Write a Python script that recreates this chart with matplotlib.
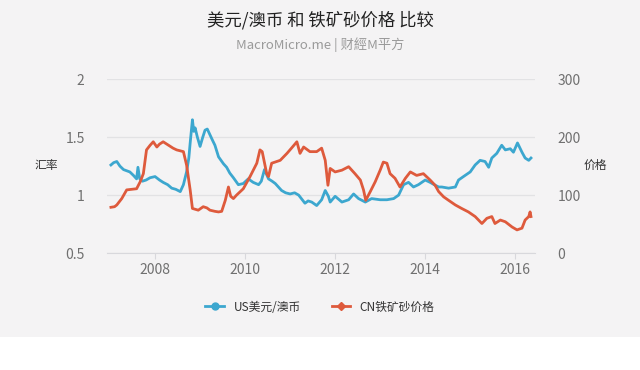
import matplotlib
matplotlib.use("Agg")
import matplotlib.pyplot as plt
from matplotlib.patches import Rectangle

plt.rcParams['font.family'] = ['Noto Sans CJK SC', 'DejaVu Sans']

# US美元/澳币 (left axis)
aud_years = [2007.02, 2007.08, 2007.15, 2007.22, 2007.30, 2007.44, 2007.52, 2007.59, 2007.62, 2007.66,
             2007.72, 2007.80, 2007.89, 2008.00, 2008.10, 2008.18, 2008.28, 2008.37, 2008.46, 2008.56,
             2008.63, 2008.70, 2008.75, 2008.78, 2008.83, 2008.86, 2008.89, 2008.94, 2009.00, 2009.06,
             2009.11, 2009.16, 2009.22, 2009.28, 2009.33, 2009.41, 2009.52, 2009.59, 2009.66, 2009.74,
             2009.85, 2009.96, 2010.07, 2010.18, 2010.30, 2010.36, 2010.43, 2010.52, 2010.60, 2010.67,
             2010.81, 2010.90, 2011.00, 2011.10, 2011.19, 2011.33, 2011.40, 2011.48, 2011.59, 2011.70,
             2011.78, 2011.85, 2011.89, 2012.00, 2012.15, 2012.30, 2012.41, 2012.52, 2012.67, 2012.81,
             2013.00, 2013.15, 2013.30, 2013.41, 2013.52, 2013.63, 2013.74, 2013.85, 2014.00, 2014.11,
             2014.20, 2014.30, 2014.37, 2014.52, 2014.67, 2014.74, 2014.85, 2015.00, 2015.11, 2015.22,
             2015.33, 2015.41, 2015.48, 2015.59, 2015.70, 2015.78, 2015.89, 2015.96, 2016.05, 2016.15,
             2016.22, 2016.30, 2016.35]
aud_vals = [1.26, 1.28, 1.29, 1.25, 1.22, 1.20, 1.17, 1.14, 1.24, 1.14,
            1.12, 1.13, 1.15, 1.16, 1.13, 1.11, 1.09, 1.06, 1.05, 1.03,
            1.09, 1.20, 1.32, 1.45, 1.65, 1.55, 1.58, 1.50, 1.42, 1.50,
            1.56, 1.57, 1.52, 1.47, 1.43, 1.33, 1.27, 1.24, 1.19, 1.15,
            1.09, 1.10, 1.14, 1.11, 1.09, 1.12, 1.22, 1.14, 1.12, 1.10,
            1.04, 1.02, 1.01, 1.02, 1.00, 0.93, 0.95, 0.94, 0.91, 0.96,
            1.04, 0.99, 0.94, 0.99, 0.94, 0.96, 1.01, 0.97, 0.94, 0.97,
            0.96, 0.96, 0.97, 1.00, 1.09, 1.11, 1.07, 1.09, 1.13, 1.11,
            1.09, 1.07, 1.07, 1.06, 1.07, 1.13, 1.16, 1.20, 1.26, 1.30,
            1.29, 1.24, 1.32, 1.36, 1.43, 1.39, 1.40, 1.37, 1.45, 1.37,
            1.32, 1.30, 1.32]

# CN铁矿砂价格 (right axis)
ore_years = [2007.02, 2007.10, 2007.15, 2007.26, 2007.37, 2007.48, 2007.59, 2007.67, 2007.74, 2007.81,
             2007.89, 2007.96, 2008.04, 2008.10, 2008.18, 2008.30, 2008.40, 2008.48, 2008.63, 2008.70,
             2008.78, 2008.83, 2008.96, 2009.07, 2009.15, 2009.22, 2009.33, 2009.41, 2009.48, 2009.56,
             2009.63, 2009.68, 2009.74, 2009.81, 2009.96, 2010.11, 2010.26, 2010.33, 2010.38, 2010.48,
             2010.52, 2010.59, 2010.78, 2010.93, 2011.03, 2011.15, 2011.22, 2011.30, 2011.44, 2011.59,
             2011.70, 2011.78, 2011.84, 2011.89, 2012.00, 2012.15, 2012.30, 2012.44, 2012.56, 2012.63,
             2012.68, 2012.78, 2012.89, 2013.00, 2013.07, 2013.15, 2013.22, 2013.33, 2013.44, 2013.56,
             2013.67, 2013.81, 2013.96, 2014.11, 2014.22, 2014.30, 2014.41, 2014.52, 2014.67, 2014.81,
             2014.96, 2015.11, 2015.26, 2015.37, 2015.48, 2015.55, 2015.67, 2015.78, 2015.93, 2016.04,
             2016.15, 2016.22, 2016.30, 2016.33, 2016.35]
ore_vals = [79, 80, 83, 94, 109, 110, 111, 123, 137, 178,
            186, 192, 183, 188, 192, 186, 181, 178, 175, 152,
            109, 77, 74, 80, 78, 74, 72, 71, 72, 91,
            114, 98, 94, 100, 111, 132, 155, 178, 175, 137,
            132, 155, 160, 172, 181, 192, 172, 183, 175, 175,
            181, 160, 117, 146, 140, 143, 149, 137, 126, 109,
            91, 106, 123, 143, 157, 155, 137, 129, 114, 129,
            140, 134, 137, 126, 117, 106, 97, 91, 83, 77,
            71, 63, 51, 60, 63, 51, 57, 54, 45, 40,
            43, 57, 63, 71, 63]

left_ticks = [0.5, 1, 1.5, 2]
left_labels = ["0.5", "1", "1.5", "2"]
right_ticks = [0, 100, 200, 300]
year_ticks = [2008, 2010, 2012, 2014, 2016]

bg = "#f4f3f4"
blue = "#3ca7cf"
red = "#de5a3c"

fig = plt.figure(figsize=(6.4, 3.7), dpi=100, facecolor=bg)
fig.patches.append(Rectangle((0, 0), 1, 0.09, transform=fig.transFigure,
                             facecolor="white", edgecolor="none", zorder=0))

ax = fig.add_axes([0.167, 0.316, 0.669, 0.470])
ax.set_facecolor("none")
ax2 = ax.twinx()

ax.plot(aud_years, aud_vals, color=blue, lw=2.0, label="US美元/澳币", zorder=3)
ax2.plot(ore_years, ore_vals, color=red, lw=2.0, label="CN铁矿砂价格", zorder=3)

ax.set_xlim(2006.93, 2016.44)
ax.set_ylim(0.5, 2)
ax2.set_ylim(0, 300)
ax.set_yticks(left_ticks)
ax.set_yticklabels(left_labels)
ax2.set_yticks(right_ticks)
ax.set_xticks(year_ticks)
ax.set_xticklabels([str(y) for y in year_ticks])

for a in (ax, ax2):
    for s in a.spines.values():
        s.set_visible(False)
ax.spines["bottom"].set_visible(True)
ax.spines["bottom"].set_color("#d8d8dc")

ax.grid(axis="y", color="#e2e2e4", lw=0.9)
ax.set_axisbelow(True)
ax.tick_params(axis="y", length=0, labelsize=10, labelcolor="#707070", pad=16)
ax2.tick_params(axis="y", length=0, labelsize=10, labelcolor="#707070", pad=16)
ax.tick_params(axis="x", length=4, color="#d8d8dc", labelsize=10, labelcolor="#707070", pad=3)

fig.text(0.072, 0.554, "汇率", fontsize=8.5, color="#333333", ha="center", va="center")
fig.text(0.930, 0.554, "价格", fontsize=8.5, color="#333333", ha="center", va="center")

fig.text(0.5, 0.945, "美元/澳币 和 铁矿砂价格 比较", fontsize=12.5, color="#222222",
         ha="center", va="center")
fig.text(0.5, 0.88, "MacroMicro.me | 财經M平方", fontsize=9.5, color="#9a9a9a",
         ha="center", va="center")

h1, = ax.plot([], [], color=blue, lw=2.0, marker="o", markersize=5)
h2, = ax.plot([], [], color=red, lw=2.0, marker="D", markersize=4.5)
fig.legend([h1, h2], ["US美元/澳币", "CN铁矿砂价格"], loc="center",
           bbox_to_anchor=(0.5, 0.17), ncol=2, frameon=False, fontsize=8.5,
           labelcolor="#333333", handlelength=1.6, columnspacing=2.6, handletextpad=0.8)

fig.savefig("out.png", dpi=100, facecolor=bg)
